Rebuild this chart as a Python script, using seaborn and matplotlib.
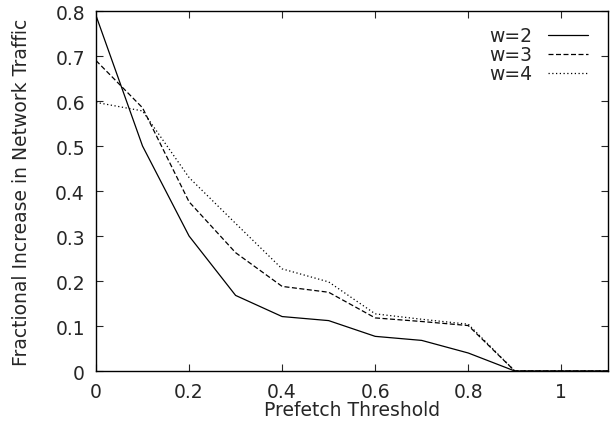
import matplotlib
matplotlib.use("Agg")
import matplotlib.pyplot as plt
import seaborn as sns

threshold = [0.0, 0.1, 0.2, 0.3, 0.4, 0.5, 0.6, 0.7, 0.8, 0.9, 1.0, 1.1]
w2 = [0.79, 0.50, 0.30, 0.168, 0.121, 0.112, 0.077, 0.068, 0.040, 0.0, 0.0, 0.0]
w3 = [0.69, 0.585, 0.376, 0.263, 0.188, 0.175, 0.118, 0.110, 0.101, 0.0, 0.0, 0.0]
w4 = [0.597, 0.578, 0.430, 0.328, 0.227, 0.198, 0.127, 0.115, 0.104, 0.0, 0.0, 0.0]

sns.set_style("ticks")
plt.rcParams['font.family'] = ['DejaVu Sans']

fig = plt.figure(figsize=(6.13, 4.27), dpi=100)
ax = fig.add_axes([0.1566, 0.1288, 0.835, 0.843])

series = [("w=2", w2, "-"), ("w=3", w3, (0, (4, 2))), ("w=4", w4, (0, (1, 2)))]
for name, vals, ls in series:
    sns.lineplot(x=threshold, y=vals, ax=ax, color="black", linewidth=0.9,
                 linestyle=ls, label=name)

ax.set_xlim(0, 1.1)
ax.set_ylim(0, 0.8)
ax.set_xticks([0, 0.2, 0.4, 0.6, 0.8, 1.0])
ax.set_xticklabels(["0", "0.2", "0.4", "0.6", "0.8", "1"])
ax.set_yticks([0, 0.1, 0.2, 0.3, 0.4, 0.5, 0.6, 0.7, 0.8])
ax.set_yticklabels(["0", "0.1", "0.2", "0.3", "0.4", "0.5", "0.6", "0.7", "0.8"])
ax.tick_params(direction="in", top=True, right=True, length=5, width=0.8,
               labelsize=13.5, pad=8)
for sp in ax.spines.values():
    sp.set_linewidth(1.0)
    sp.set_color("black")

ax.set_xlabel("Prefetch Threshold", fontsize=13.5)
ax.set_ylabel("Fractional Increase in Network Traffic", fontsize=13.5)
ax.xaxis.set_label_coords(0.5, -0.08)
ax.yaxis.set_label_coords(-0.127, 0.5)

ax.legend(loc="upper right", bbox_to_anchor=(0.961, 0.958), frameon=False,
          markerfirst=False, fontsize=13.5, handlelength=2.13, handletextpad=0.85,
          labelspacing=0.0, borderpad=0, borderaxespad=0)

fig.savefig("out.png", dpi=100)
